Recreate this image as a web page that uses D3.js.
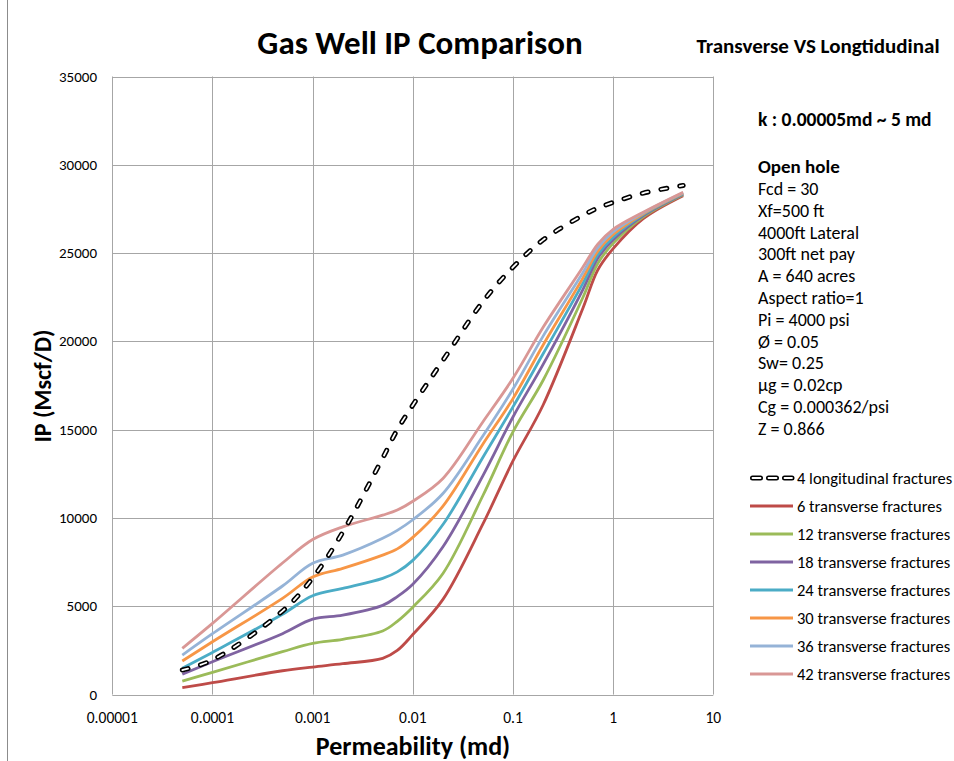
<!DOCTYPE html>
<html>
<head>
<meta charset="utf-8">
<script src="https://cdn.jsdelivr.net/npm/d3@7"></script>
<style>
  body { margin: 0; background: #fff; }
  text { font-family: Carlito, Calibri, Lato, "Open Sans", sans-serif; fill: #000; }
</style>
</head>
<body>
<div id="chart"></div>
<script>
// permeability (md) at which the curves were read
const perm = [0.00005, 0.0001, 0.0005, 0.001, 0.002, 0.005, 0.007, 0.01, 0.02, 0.05, 0.1, 0.2, 0.5, 0.7, 1, 2, 5];

// IP (Mscf/D)
const long4 = [1390, 1960, 4730, 6600, 9200, 13390, 15000, 16390, 18930, 22250, 24200, 25750, 27140, 27550, 27870, 28400, 28830];
const trans6 = [390, 675, 1350, 1560, 1750, 2050, 2500, 3400, 5390, 9650, 13230, 16400, 21890, 24030, 25250, 26950, 28250];
const trans12 = [760, 1260, 2430, 2900, 3130, 3600, 4150, 4950, 6860, 11260, 14880, 17800, 22500, 24400, 25550, 27050, 28300];
const trans18 = [1150, 1860, 3450, 4270, 4500, 5050, 5550, 6250, 8370, 12390, 15720, 18700, 22950, 24700, 25750, 27120, 28330];
const trans24 = [1490, 2390, 4550, 5600, 6010, 6580, 6950, 7600, 9630, 13430, 16290, 19300, 23300, 24900, 25900, 27180, 28360];
const trans30 = [1900, 2990, 5450, 6660, 7150, 7900, 8250, 8900, 10670, 14180, 16760, 19800, 23600, 25100, 26050, 27230, 28390];
const trans36 = [2240, 3450, 6150, 7440, 7900, 8850, 9300, 9900, 11390, 14640, 17300, 20300, 23900, 25300, 26200, 27280, 28420];
const trans42 = [2620, 4030, 7450, 8780, 9500, 10160, 10450, 10950, 12240, 15440, 17910, 20800, 24210, 25500, 26350, 27320, 28450];

const seriesNames = ["4 longitudinal fractures", "6 transverse fractures", "12 transverse fractures",
  "18 transverse fractures", "24 transverse fractures", "30 transverse fractures",
  "36 transverse fractures", "42 transverse fractures"];

const xTicks = [0.00001, 0.0001, 0.001, 0.01, 0.1, 1, 10];
const xTickLabels = ["0.00001", "0.0001", "0.001", "0.01", "0.1", "1", "10"];
const yTicks = [0, 5000, 10000, 15000, 20000, 25000, 30000, 35000];

const notes = ["Fcd = 30", "Xf=500 ft", "4000ft Lateral", "300ft net pay", "A = 640 acres",
  "Aspect ratio=1", "Pi = 4000 psi", "Ø = 0.05", "Sw= 0.25", "µg = 0.02cp",
  "Cg = 0.000362/psi", "Z = 0.866"];

/****************************************************************/
const width = 954;
const height = 761;

const svg = d3.select("#chart").append("svg")
  .attr("width", width)
  .attr("height", height);

// left edge of the chart frame
svg.append("line")
  .attr("x1", 7.5).attr("x2", 7.5)
  .attr("y1", 0).attr("y2", height)
  .attr("stroke", "#8c8c8c");

const x = d3.scaleLog()
  .domain([0.00001, 10])
  .range([112.3, 713.3]);

const y = d3.scaleLinear()
  .domain([0, 35000])
  .range([694.6, 76.5]);

/********************** gridlines *****************************/
svg.selectAll(".vgrid")
  .data(xTicks)
  .join("line")
  .attr("class", "vgrid")
  .attr("x1", d => Math.round(x(d)) + 0.5)
  .attr("x2", d => Math.round(x(d)) + 0.5)
  .attr("y1", y(35000))
  .attr("y2", y(0))
  .attr("stroke", "#a6a6a6");

svg.selectAll(".hgrid")
  .data(yTicks)
  .join("line")
  .attr("class", "hgrid")
  .attr("x1", x(0.00001))
  .attr("x2", x(10))
  .attr("y1", d => Math.round(y(d)) + 0.5)
  .attr("y2", d => Math.round(y(d)) + 0.5)
  .attr("stroke", "#a6a6a6");

/********************** tick labels *****************************/
svg.selectAll(".xlab")
  .data(xTicks)
  .join("text")
  .attr("class", "xlab")
  .attr("x", d => x(d))
  .attr("y", 723)
  .attr("text-anchor", "middle")
  .style("font-size", "15.5px")
  .text((d, i) => xTickLabels[i]);

svg.selectAll(".ylab")
  .data(yTicks)
  .join("text")
  .attr("class", "ylab")
  .attr("x", 97)
  .attr("y", d => y(d) + 5)
  .attr("text-anchor", "end")
  .style("font-size", "15px")
  .text(d => d);

/********************** titles *****************************/
svg.append("text")
  .attr("x", 420).attr("y", 54)
  .attr("text-anchor", "middle")
  .style("font-size", "33px").style("font-weight", "bold")
  .text("Gas Well IP Comparison");

svg.append("text")
  .attr("x", 818).attr("y", 53)
  .attr("text-anchor", "middle")
  .style("font-size", "21px").style("font-weight", "bold")
  .text("Transverse VS Longtidudinal");

svg.append("text")
  .attr("x", 413).attr("y", 755)
  .attr("text-anchor", "middle")
  .style("font-size", "26px").style("font-weight", "bold")
  .text("Permeability (md)");

svg.append("text")
  .attr("transform", "translate(51,386) rotate(-90)")
  .attr("text-anchor", "middle")
  .style("font-size", "24px").style("font-weight", "bold")
  .text("IP (Mscf/D)");

/********************** side notes *****************************/
svg.append("text")
  .attr("x", 758).attr("y", 126)
  .style("font-size", "19.5px").style("font-weight", "bold")
  .text("k : 0.00005md ~ 5 md");

svg.append("text")
  .attr("x", 758).attr("y", 173)
  .style("font-size", "19px").style("font-weight", "bold")
  .text("Open hole");

svg.selectAll(".note")
  .data(notes)
  .join("text")
  .attr("class", "note")
  .attr("x", 758)
  .attr("y", (d, i) => 195 + i * 21.8)
  .style("font-size", "18px")
  .text(d => d);

/********************** curves *****************************/
const line = d3.line()
  .x(d => x(d[0]))
  .y(d => y(d[1]))
  .curve(d3.curveCatmullRom.alpha(0.5));

const solid = [trans6, trans12, trans18, trans24, trans30, trans36, trans42];
const colors = ["#be4b48", "#9bbb59", "#7f63a1", "#4bacc6", "#f79646", "#95b3d7", "#d99795"];

solid.forEach((vals, i) => {
  svg.append("path")
    .datum(perm.map((p, j) => [p, vals[j]]))
    .attr("d", line)
    .attr("fill", "none")
    .attr("stroke", colors[i])
    .attr("stroke-width", 2.8);
});

// longitudinal: white dashes with black outline
const dashPts = perm.map((p, j) => [p, long4[j]]);
svg.append("path")
  .datum(dashPts)
  .attr("d", line)
  .attr("fill", "none")
  .attr("stroke", "#000")
  .attr("stroke-width", 5)
  .attr("stroke-linecap", "round")
  .attr("stroke-dasharray", "6,13");
svg.append("path")
  .datum(dashPts)
  .attr("d", line)
  .attr("fill", "none")
  .attr("stroke", "#fff")
  .attr("stroke-width", 1.8)
  .attr("stroke-linecap", "round")
  .attr("stroke-dasharray", "6,13");

/********************** legend *****************************/
const legend = svg.selectAll(".legend")
  .data(seriesNames)
  .join("g")
  .attr("class", "legend")
  .attr("transform", (d, i) => `translate(750, ${478 + i * 28})`);

legend.each(function (d, i) {
  const g = d3.select(this);
  if (i === 0) {
    g.append("line")
      .attr("x1", 2.5).attr("x2", 42).attr("y1", 0).attr("y2", 0)
      .attr("stroke", "#000").attr("stroke-width", 5)
      .attr("stroke-linecap", "round").attr("stroke-dasharray", "8,8");
    g.append("line")
      .attr("x1", 2.5).attr("x2", 42).attr("y1", 0).attr("y2", 0)
      .attr("stroke", "#fff").attr("stroke-width", 1.8)
      .attr("stroke-linecap", "round").attr("stroke-dasharray", "8,8");
  } else {
    g.append("line")
      .attr("x1", 0).attr("x2", 43).attr("y1", 0).attr("y2", 0)
      .attr("stroke", colors[i - 1]).attr("stroke-width", 2.8);
  }
  g.append("text")
    .attr("x", 47).attr("y", 6)
    .style("font-size", "16.5px")
    .text(d);
});
</script>
</body>
</html>
